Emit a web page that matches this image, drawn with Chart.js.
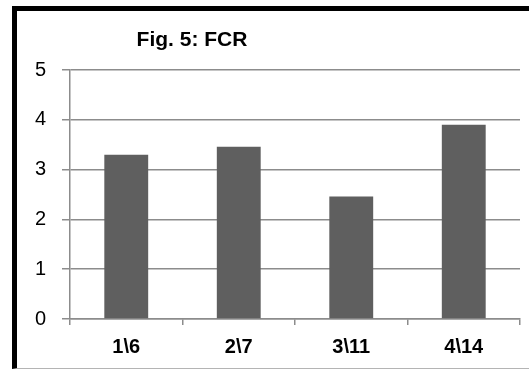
<!DOCTYPE html>
<html>
<head>
<meta charset="utf-8">
<script src="https://cdn.jsdelivr.net/npm/chart.js@4"></script>
<style>
  html, body { margin: 0; padding: 0; background: #fff; overflow: hidden; }
  #wrap { position: relative; width: 529px; height: 370px; overflow: hidden; }
  #frame { position: absolute; left: 12px; top: 6px; width: 600px; height: 357px;
           border-left: 5px solid #000; border-top: 5px solid #000; border-bottom: 1px solid #b4b4b4;
           pointer-events: none; }
  canvas { position: absolute; left: 0; top: 0; }
</style>
</head>
<body>
<div id="wrap">
  <canvas id="c" width="529" height="370"></canvas>
  <div id="frame"></div>
</div>
<script>
const titleText = "Fig. 5: FCR";
const categories = ["1\\6", "2\\7", "3\\11", "4\\14"];
const fcrValues = [3.3, 3.46, 2.46, 3.9];
const yMin = 0, yMax = 5, yStep = 1;

const titlePlugin = {
  id: 'leftTitle',
  afterDraw(chart) {
    const ctx = chart.ctx, a = chart.chartArea;
    ctx.save();
    ctx.font = 'bold 21px "Liberation Sans", Arial, sans-serif';
    ctx.fillStyle = '#000';
    ctx.textAlign = 'center';
    ctx.textBaseline = 'alphabetic';
    ctx.fillText(titleText, a.left + 122, a.top - 24);
    ctx.restore();
  }
};

new Chart(document.getElementById('c'), {
  type: 'bar',
  data: {
    labels: categories,
    datasets: [{
      data: fcrValues,
      backgroundColor: '#5f5f5f',
      borderWidth: 0,
      barPercentage: 0.39,
      categoryPercentage: 1.0
    }]
  },
  options: {
    responsive: false,
    animation: false,
    devicePixelRatio: 1,
    layout: { padding: { top: 70, right: 9, left: 0, bottom: 0 } },
    plugins: { legend: { display: false }, title: { display: false }, tooltip: { enabled: false } },
    scales: {
      x: {
        grid: { display: true, drawOnChartArea: false, drawTicks: true, tickLength: 6, color: '#8c8c8c', lineWidth: 1.5 },
        border: { display: true, color: '#8c8c8c', width: 1.5 },
        ticks: { color: '#000', padding: 10, font: { family: '"Liberation Sans", Arial, sans-serif', size: 20, weight: 'bold' } },
        afterFit(scale) { scale.height = 51; }
      },
      y: {
        min: yMin, max: yMax,
        grid: { color: '#8c8c8c', lineWidth: 1.5, tickLength: 8, drawTicks: true },
        border: { display: true, color: '#8c8c8c', width: 1.5 },
        ticks: { stepSize: yStep, color: '#000', padding: 16, font: { family: '"Liberation Sans", Arial, sans-serif', size: 20 } },
        afterFit(scale) { scale.width = 70; }
      }
    }
  },
  plugins: [titlePlugin]
});
</script>
</body>
</html>
